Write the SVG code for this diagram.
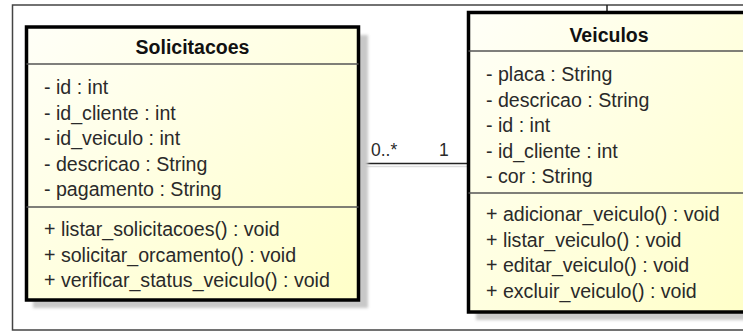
<svg xmlns="http://www.w3.org/2000/svg" width="743" height="331" viewBox="0 0 743 331">
<defs>
<linearGradient id="fill" x1="0" y1="0" x2="1" y2="1">
<stop offset="0" stop-color="#fffff8"/>
<stop offset="1" stop-color="#ffffc8"/>
</linearGradient>
<filter id="blur" x="-5%" y="-5%" width="110%" height="110%"><feGaussianBlur stdDeviation="1.5"/></filter>
<style>
.frame{fill:none;stroke:#444;stroke-width:1.5}
.shadow{fill:#c8c8c8;filter:url(#blur)}
.box{fill:url(#fill);stroke:#000;stroke-width:3.5}
.sep{stroke:#555;stroke-width:1.5}
.title{font-family:"Liberation Sans",Arial,sans-serif;font-size:19.5px;font-weight:bold;fill:#111;text-anchor:middle}
.t{font-family:"Liberation Sans",Arial,sans-serif;font-size:19.6px;fill:#2a2a2a}
.conn{stroke:#222;stroke-width:1.5;fill:none}
.lbl{font-family:"Liberation Sans",Arial,sans-serif;font-size:17.5px;fill:#2a2a2a}
</style>
</defs>
<rect width="743" height="331" fill="#fff"/>
<path class="frame" d="M750,5 H12.5 V330 H750"/>
<g id="connectors">
<line class="conn" x1="359" y1="163.5" x2="468" y2="163.5"/>
<line x1="359" y1="166.5" x2="468" y2="166.5" stroke="#ddd" stroke-width="1.5"/>
<line class="conn" x1="607" y1="5" x2="607" y2="12"/>
<text class="lbl" x="371" y="156">0..*</text>
<text class="lbl" x="439" y="156">1</text>
</g>
<g id="Solicitacoes">
<rect class="shadow" x="33" y="35" width="335" height="273"/>
<rect class="box" x="26.5" y="27" width="332" height="273"/>
<line class="sep" x1="26.5" y1="64" x2="358.5" y2="64"/>
<line class="sep" x1="26.5" y1="207" x2="358.5" y2="207"/>
<text class="title" x="192.5" y="54">Solicitacoes</text>
<text class="t" x="44" y="94">- id : int</text>
<text class="t" x="44" y="119.5">- id_cliente : int</text>
<text class="t" x="44" y="145">- id_veiculo : int</text>
<text class="t" x="44" y="170.5">- descricao : String</text>
<text class="t" x="44" y="196">- pagamento : String</text>
<text class="t" x="44" y="236">+ listar_solicitacoes() : void</text>
<text class="t" x="44" y="261.5">+ solicitar_orcamento() : void</text>
<text class="t" x="44" y="287">+ verificar_status_veiculo() : void</text>
</g>
<g id="Veiculos">
<rect class="shadow" x="476" y="20" width="290" height="300"/>
<rect class="box" x="468.5" y="12.5" width="282" height="299.5"/>
<line class="sep" x1="468.5" y1="51" x2="750" y2="51"/>
<line class="sep" x1="468.5" y1="193" x2="750" y2="193"/>
<text class="title" x="609" y="42">Veiculos</text>
<text class="t" x="486" y="81">- placa : String</text>
<text class="t" x="486" y="106.5">- descricao : String</text>
<text class="t" x="486" y="132">- id : int</text>
<text class="t" x="486" y="157.5">- id_cliente : int</text>
<text class="t" x="486" y="183">- cor : String</text>
<text class="t" x="486" y="221">+ adicionar_veiculo() : void</text>
<text class="t" x="486" y="246.5">+ listar_veiculo() : void</text>
<text class="t" x="486" y="272">+ editar_veiculo() : void</text>
<text class="t" x="486" y="297.5">+ excluir_veiculo() : void</text>
</g>
</svg>
